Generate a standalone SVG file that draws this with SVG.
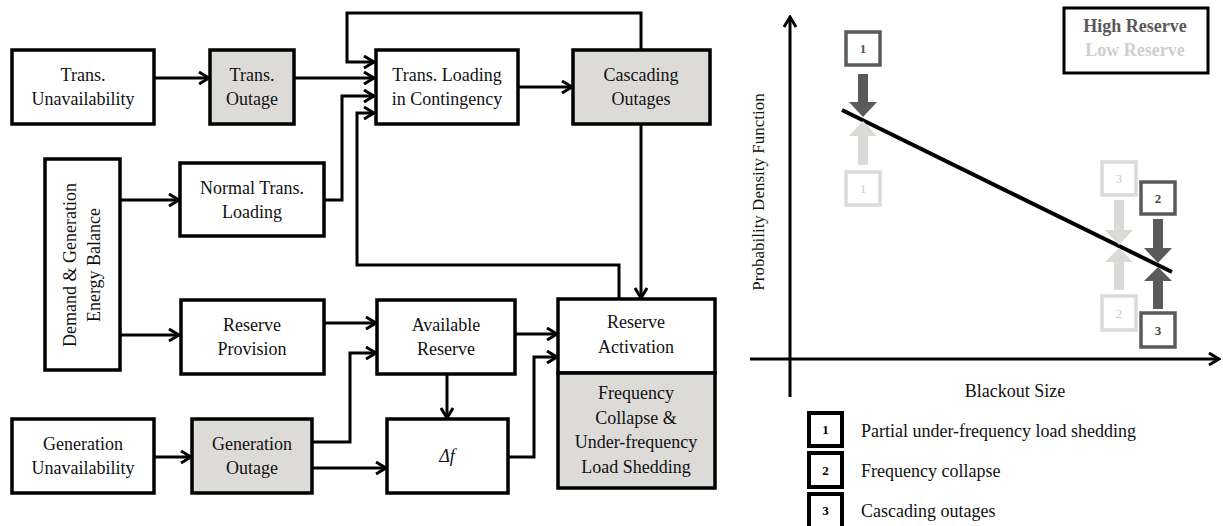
<svg xmlns="http://www.w3.org/2000/svg" width="1223" height="526" viewBox="0 0 1223 526">
<defs>
<style>
.t{font-family:'Liberation Serif','Times New Roman',Times,'DejaVu Serif',serif;font-size:18px;fill:#111;text-anchor:middle}
.box{fill:#fff;stroke:#000;stroke-width:3.5}
.gray{fill:#dddbd8;stroke:#000;stroke-width:3.5}
.c{fill:none;stroke:#000;stroke-width:3}
.dk{fill:#fff;stroke:#5a5a5a;stroke-width:3.5}
.lt{fill:#fff;stroke:#dcdad7;stroke-width:3.5}
.dkf{fill:#5a5a5a}
.ltf{fill:#dcdad7}
.n{font-family:'Liberation Serif','Times New Roman',Times,'DejaVu Serif',serif;font-size:13px;text-anchor:middle}
.lg{fill:#fff;stroke:#000;stroke-width:4}
</style>
<marker id="arr" viewBox="0 0 14 14" refX="12" refY="7" markerWidth="14" markerHeight="14" markerUnits="userSpaceOnUse" orient="auto">
<path d="M2,1 L12,7 L2,13" fill="none" stroke="#000" stroke-width="3"/>
</marker>
</defs>
<rect width="1223" height="526" fill="#fff"/>

<g id="connectors">
<path class="c" d="M154,78 H209" marker-end="url(#arr)"/>
<path class="c" d="M294,78 H374" marker-end="url(#arr)"/>
<path class="c" d="M518,87 H572" marker-end="url(#arr)"/>
<path class="c" d="M641,50 V13 H347 V62 H374" marker-end="url(#arr)"/>
<path class="c" d="M324,200 H342 V96 H374" marker-end="url(#arr)"/>
<path class="c" d="M619,299 V265 H357 V113 H374" marker-end="url(#arr)"/>
<path class="c" d="M641,124 V298" marker-end="url(#arr)"/>
<path class="c" d="M120,200 H179" marker-end="url(#arr)"/>
<path class="c" d="M120,335 H179" marker-end="url(#arr)"/>
<path class="c" d="M324,323 H376" marker-end="url(#arr)"/>
<path class="c" d="M312,442 H350 V353 H376" marker-end="url(#arr)"/>
<path class="c" d="M515,334 H557" marker-end="url(#arr)"/>
<path class="c" d="M447,374 V418" marker-end="url(#arr)"/>
<path class="c" d="M312,468 H386" marker-end="url(#arr)"/>
<path class="c" d="M508,457 H534 V357 H557" marker-end="url(#arr)"/>
<path class="c" d="M154,457 H191" marker-end="url(#arr)"/>
</g>

<g id="trans-unavailability">
<rect class="box" x="12" y="50" width="142" height="74"/>
<text class="t" x="83" y="81">Trans.</text>
<text class="t" x="83" y="105">Unavailability</text>
</g>
<g id="trans-outage">
<rect class="gray" x="210" y="50" width="84" height="74"/>
<text class="t" x="252" y="81">Trans.</text>
<text class="t" x="252" y="105">Outage</text>
</g>
<g id="trans-loading-contingency">
<rect class="box" x="376" y="50" width="142" height="74"/>
<text class="t" x="447" y="81">Trans. Loading</text>
<text class="t" x="447" y="105">in Contingency</text>
</g>
<g id="cascading-outages">
<rect class="gray" x="573" y="50" width="137" height="74"/>
<text class="t" x="641" y="81">Cascading</text>
<text class="t" x="641" y="105">Outages</text>
</g>
<g id="demand-generation">
<rect class="box" x="45" y="159" width="75" height="211"/>
<text class="t" transform="translate(76,265) rotate(-90)">Demand &amp; Generation</text>
<text class="t" transform="translate(100,265) rotate(-90)">Energy Balance</text>
</g>
<g id="normal-trans-loading">
<rect class="box" x="180" y="163" width="144" height="73"/>
<text class="t" x="252" y="194">Normal Trans.</text>
<text class="t" x="252" y="218">Loading</text>
</g>
<g id="reserve-provision">
<rect class="box" x="181" y="300" width="143" height="74"/>
<text class="t" x="252" y="331">Reserve</text>
<text class="t" x="252" y="355">Provision</text>
</g>
<g id="available-reserve">
<rect class="box" x="377" y="300" width="138" height="74"/>
<text class="t" x="446" y="331">Available</text>
<text class="t" x="446" y="355">Reserve</text>
</g>
<g id="delta-f">
<rect class="box" x="387" y="419" width="121" height="74"/>
<text class="t" x="447" y="462" font-style="italic">Δf</text>
</g>
<g id="reserve-activation">
<rect class="box" x="558" y="299" width="157" height="74"/>
<text class="t" x="636" y="328">Reserve</text>
<text class="t" x="636" y="353">Activation</text>
</g>
<g id="frequency-collapse">
<rect class="gray" x="558" y="373" width="157" height="115"/>
<text class="t" x="636" y="399">Frequency</text>
<text class="t" x="636" y="424">Collapse &amp;</text>
<text class="t" x="636" y="448">Under-frequency</text>
<text class="t" x="636" y="473">Load Shedding</text>
</g>
<g id="generation-unavailability">
<rect class="box" x="12" y="419" width="142" height="74"/>
<text class="t" x="83" y="450">Generation</text>
<text class="t" x="83" y="474">Unavailability</text>
</g>
<g id="generation-outage">
<rect class="gray" x="192" y="419" width="120" height="74"/>
<text class="t" x="252" y="450">Generation</text>
<text class="t" x="252" y="474">Outage</text>
</g>

<g id="chart">
<path class="c" d="M790,397 V17" marker-end="url(#arr)"/>
<path class="c" d="M750,359 H1219" marker-end="url(#arr)"/>
<text class="t" transform="translate(764,192) rotate(-90)" style="font-size:17px">Probability Density Function</text>
<text class="t" x="1015" y="397">Blackout Size</text>
<line x1="842" y1="110" x2="1172" y2="272" stroke="#000" stroke-width="4"/>

<rect x="1064" y="8" width="144" height="65" fill="#fff" stroke="#000" stroke-width="3"/>
<text class="t" x="1135" y="32" font-weight="bold" style="fill:#595959">High Reserve</text>
<text class="t" x="1135" y="56" font-weight="bold" style="fill:#d0cecb">Low Reserve</text>

<rect class="dk" x="846" y="32" width="34" height="33"/>
<text class="n" x="863" y="53" font-weight="bold" fill="#555">1</text>
<polygon class="dkf" points="858,74 868,74 868,102 877,102 863,117 849,102 858,102"/>

<rect class="lt" x="846" y="172" width="34" height="33"/>
<text class="n" x="863" y="193" fill="#ccc">1</text>
<polygon class="ltf" points="858,165 868,165 868,136 877,136 863,121 849,136 858,136"/>

<rect class="lt" x="1102" y="162" width="34" height="33"/>
<text class="n" x="1119" y="183" fill="#ccc">3</text>
<polygon class="ltf" points="1114,200 1124,200 1124,230 1133,230 1119,245 1105,230 1114,230"/>

<rect class="lt" x="1102" y="296" width="34" height="34"/>
<text class="n" x="1119" y="318" fill="#ccc">2</text>
<polygon class="ltf" points="1114,290 1124,290 1124,262 1133,262 1119,248 1105,262 1114,262"/>

<rect class="dk" x="1141" y="182" width="34" height="32"/>
<text class="n" x="1158" y="203" font-weight="bold" fill="#444">2</text>
<polygon class="dkf" points="1153,219 1163,219 1163,248 1172,248 1158,263 1144,248 1153,248"/>

<rect class="dk" x="1141" y="313" width="34" height="34"/>
<text class="n" x="1158" y="335" font-weight="bold" fill="#444">3</text>
<polygon class="dkf" points="1153,309 1163,309 1163,281 1172,281 1158,267 1144,281 1153,281"/>
</g>

<g id="legend">
<rect class="lg" x="809" y="413" width="33" height="33"/>
<text class="n" x="825.5" y="434" font-weight="bold" fill="#000">1</text>
<text class="t" x="861" y="437" style="text-anchor:start">Partial under-frequency load shedding</text>
<rect class="lg" x="809" y="453" width="33" height="34"/>
<text class="n" x="825.5" y="475" font-weight="bold" fill="#000">2</text>
<text class="t" x="861" y="477" style="text-anchor:start">Frequency collapse</text>
<rect class="lg" x="809" y="494" width="33" height="34"/>
<text class="n" x="825.5" y="515" font-weight="bold" fill="#000">3</text>
<text class="t" x="861" y="517" style="text-anchor:start">Cascading outages</text>
</g>
</svg>
